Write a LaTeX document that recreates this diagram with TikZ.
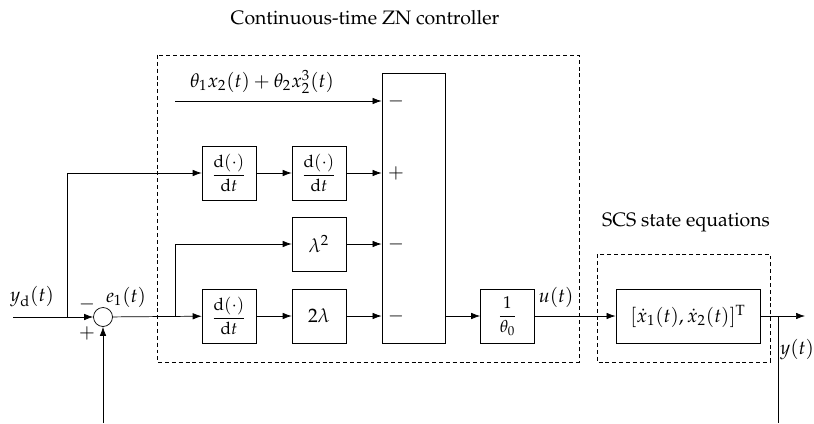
\documentclass[tikz,border=0pt]{standalone}
\usepackage[T1]{fontenc}
\usepackage{amsmath}
\usepackage{mathpazo}
\usetikzlibrary{arrows.meta,positioning}

\tikzset{
    every node/.style={font=\fontsize{10.8pt}{13pt}\selectfont},
    blk/.style={draw, minimum width=1.05cm, minimum height=1.05cm, inner sep=0pt},
    fracblk/.style={blk, font=\fontsize{9.5pt}{11pt}\selectfont},
    sumnode/.style={draw, circle, minimum size=0.37cm, inner sep=0pt},
    frame/.style={draw, dash pattern=on 2.2pt off 1.6pt},
    sig/.style={-{Latex[length=5pt,width=3.6pt]}},
}

\begin{document}
\begin{tikzpicture}[x=0.0195cm, y=-0.0195cm]
    \useasboundingbox (0,0) rectangle (814,423);

    % Frames
    \draw[frame] (157,55) rectangle (579,362);
    \node at (365,18) {Continuous-time ZN controller};
    \draw[frame] (597,254) rectangle (770,362);
    \node at (686,222) {SCS state equations};

    % Blocks
    \node[sumnode] (sum) at (103,317) {};
    \node[fracblk] (dt1) at (229,173) {$\dfrac{\mathrm{d}(\cdot)}{\mathrm{d}t}$};
    \node[fracblk] (dt2) at (319,173) {$\dfrac{\mathrm{d}(\cdot)}{\mathrm{d}t}$};
    \node[blk] (lsq) at (319,244) {$\lambda^2$};
    \node[fracblk] (dt3) at (229,316) {$\dfrac{\mathrm{d}(\cdot)}{\mathrm{d}t}$};
    \node[blk] (twol) at (319,316) {$2\lambda$};
    \node[draw, minimum width=1.23cm, minimum height=5.27cm, inner sep=0pt] (comb) at (413.5,208) {};
    \node[fracblk] (gain) at (507.5,316) {$\dfrac{1}{\theta_0}$};
    \node[draw, minimum width=2.81cm, minimum height=1.05cm, inner sep=0pt] (plant) at (688,316) {$[\dot{x}_1(t), \dot{x}_2(t)]^{\mathrm{T}}$};

    % Free ends
    \coordinate (yd) at (13,317);
    \coordinate (fb) at (103,423);
    \coordinate (nl) at (175,101);
    \coordinate (br1) at (67,317);
    \coordinate (br2) at (175,316);
    \coordinate (yout) at (805,316);
    \coordinate (br3) at (778,316);
    \coordinate (ybot) at (778,423);

    % Signals
    \draw[sig] (yd) -- (sum);
    \draw[sig] (fb) -- (sum);
    \draw[sig] (sum) -- (dt3);
    \draw[sig] (br1) |- (dt1);
    \draw[sig] (br2) |- (lsq);
    \draw[sig] (dt1) -- (dt2);
    \draw[sig] (dt3) -- (twol);
    \draw[sig] (nl) -- (nl -| comb.west);
    \draw[sig] (dt2) -- (dt2 -| comb.west);
    \draw[sig] (lsq) -- (lsq -| comb.west);
    \draw[sig] (twol) -- (twol -| comb.west);
    \draw[sig] (twol -| comb.east) -- (gain);
    \draw[sig] (gain) -- (plant);
    \draw[sig] (plant) -- (yout);
    \draw (br3) -- (ybot);

    % Labels
    \node at (32,297) {$y_{\mathrm{d}}(t)$};
    \node at (87,304) {$-$};
    \node at (87,333) {$+$};
    \node at (126,297) {$e_1(t)$};
    \node at (262,82) {$\theta_1 x_2(t) + \theta_2 x_2^3(t)$};
    \node[right=0pt] at (nl -| comb.west) {$-$};
    \node[right=0pt] at (dt2 -| comb.west) {$+$};
    \node[right=0pt] at (lsq -| comb.west) {$-$};
    \node[right=0pt] at (twol -| comb.west) {$-$};
    \node at (556,297) {$u(t)$};
    \node at (797,350) {$y(t)$};
\end{tikzpicture}
\end{document}
